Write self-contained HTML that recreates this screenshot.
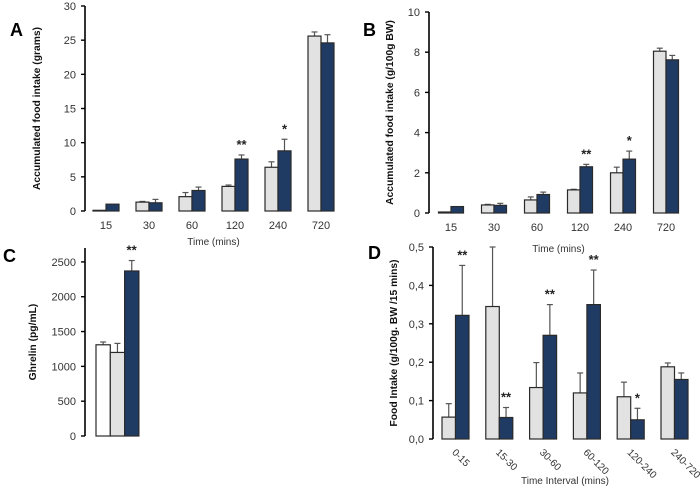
<!DOCTYPE html>
<html><head><meta charset="utf-8"><style>
html,body{margin:0;padding:0;background:#fff;width:700px;height:490px;overflow:hidden}
text{font-family:"Liberation Sans",Arial,sans-serif}
</style></head><body>
<svg id="fig" width="700" height="490" viewBox="0 0 700 490" xmlns="http://www.w3.org/2000/svg"></svg>
<script>
// Panel A
const catsA = ["15","30","60","120","240","720"];
const lightA = [0.1,1.3,2.1,3.6,6.4,25.6];
const lightErrA = [0,0.1,0.6,0.2,0.8,0.6];
const darkA = [1.0,1.2,3.0,7.6,8.8,24.6];
const darkErrA = [0,0.5,0.5,0.6,1.7,1.2];
const starsA = ["","","","**","*",""];
const ticksA = [0,5,10,15,20,25,30];
// Panel B
const catsB = ["15","30","60","120","240","720"];
const lightB = [0.05,0.4,0.65,1.15,2.0,8.05];
const lightErrB = [0,0.03,0.15,0.03,0.28,0.15];
const darkB = [0.32,0.38,0.92,2.3,2.68,7.62];
const darkErrB = [0,0.1,0.12,0.12,0.4,0.22];
const starsB = ["","","","**","*",""];
const ticksB = [0,2,4,6,8,10];
// Panel C
const valuesC = [1310,1200,2370];
const errC = [40,130,150];
const starsC = ["","","**"];
const ticksC = [0,500,1000,1500,2000,2500];
// Panel D
const catsD = ["0-15","15-30","30-60","60-120","120-240","240-720"];
const lightD = [0.057,0.345,0.134,0.12,0.11,0.188];
const lightErrD = [0.035,0.155,0.065,0.052,0.038,0.01];
const darkD = [0.322,0.056,0.27,0.35,0.05,0.155];
const darkErrD = [0.13,0.026,0.08,0.09,0.03,0.017];
const starsLightD = ["","","","","",""];
const starsDarkD = ["**","**","**","**","*",""];
const ticksD = ["0,0","0,1","0,2","0,3","0,4","0,5"];
const ticksDVal = [0,0.1,0.2,0.3,0.4,0.5];

const NS="http://www.w3.org/2000/svg";
const svg=document.getElementById('fig');
function mk(tag,attrs,parent,txt){const e=document.createElementNS(NS,tag);for(const k in attrs)e.setAttribute(k,attrs[k]);if(txt!==undefined)e.textContent=txt;(parent||svg).appendChild(e);return e;}
const LIGHT="#e2e2e2",DARK="#1f3b63",WHITE="#ffffff",STROKE="#2a2a2a";

function axis(g,ax,y0,y1,max,vals,labels,title,titleX){
  const ys=v=>y0-(v/max)*(y0-y1);
  const l=mk('line',{x1:ax,y1:y1,x2:ax,y2:y0,stroke:"#000","stroke-width":1.6},g);
  
  vals.forEach((v,i)=>{
    const t=mk('line',{x1:ax-4,x2:ax,y1:ys(v),y2:ys(v),stroke:"#000","stroke-width":1.4},g);
    
    const tx=mk('text',{x:ax-9,y:ys(v)+4,"text-anchor":"end","font-size":11,fill:"#333"},g,labels[i]);
    
  });
  const yt=mk('text',{transform:`translate(${titleX},${(y0+y1)/2}) rotate(-90)`,"text-anchor":"middle","font-size":10.3,"font-weight":"bold",fill:"#111"},g,title);
  
  return ys;
}
function bar(g,x,w,v,err,ys,fill,name){
  const y0=ys(0),y=ys(v);
  if(err>0){const e=mk('line',{x1:x+w/2,x2:x+w/2,y1:y,y2:ys(v+err),stroke:"#555","stroke-width":1.2},g);
    
    const c=mk('line',{x1:x+w/2-3,x2:x+w/2+3,y1:ys(v+err),y2:ys(v+err),stroke:"#555","stroke-width":1.2},g);
    }
  const r=mk('rect',{x:x,y:y,width:w,height:Math.max(0.5,y0-y),fill:fill,stroke:STROKE,"stroke-width":1.2},g);
  
}
function star(g,x,y,s){if(!s)return;const t=mk('text',{x:x,y:y,"text-anchor":"middle","font-size":13,"font-weight":"bold",fill:"#222"},g,s);
  }
function letter(x,y,s){const t=mk('text',{x:x,y:y,"font-size":18,"font-weight":"bold",fill:"#000"},svg,s);
  }

function grouped(name,ax,y0,y1,max,tickVals,tickLabs,title,titleX,cats,L,LE,D,DE,starsL,starsD,start,sp,bw,xtitle,xtY,rot){
  const g=mk('g',{});
  const ys=axis(g,ax,y0,y1,max,tickVals,tickLabs,title,titleX);
  cats.forEach((c,i)=>{
    const cx=start+i*sp;
    bar(g,cx-bw,bw,L[i],LE[i],ys,LIGHT,'bar-control-'+c);
    bar(g,cx,bw,D[i],DE[i],ys,DARK,'bar-treated-'+c);
    star(g,cx-bw/2,ys(L[i]+LE[i])-6,starsL[i]);
    star(g,cx+bw/2,ys(D[i]+DE[i])-6,starsD[i]);
    let t;
    if(rot){t=mk('text',{transform:`translate(${cx-4},${y0+14}) rotate(45)`,"font-size":10,fill:"#333"},g,c);}
    else{t=mk('text',{x:cx,y:y0+18,"text-anchor":"middle","font-size":11,fill:"#333"},g,c);}
    
  });
  const xt=mk('text',{x:start+2.5*sp,y:xtY,"text-anchor":"middle","font-size":10,fill:"#333"},g,xtitle);
  
}

letter(10,36,"A");letter(363,36,"B");letter(3,262,"C");letter(368,259,"D");
grouped('panel-a-chart',85,211,6,30,ticksA,ticksA.map(String),'Accumulated food intake (grams)',40,catsA,lightA,lightErrA,darkA,darkErrA,["","","","","",""],starsA,106,43,13,'Time (mins)',245,false);
grouped('panel-b-chart',429,213,12,10,ticksB,ticksB.map(String),'Accumulated food intake (g/100g BW)',393,catsB,lightB,lightErrB,darkB,darkErrB,["","","","","",""],starsB,451,43,12.5,'Time (mins)',252,false);
grouped('panel-d-chart',433,439,247,0.5,ticksDVal,ticksD,'Food Intake (g/100g. BW /15 mins)',397,catsD,lightD,lightErrD,darkD,darkErrD,starsLightD,starsDarkD,455.5,43.8,13.5,'Time Interval (mins)',484,true);

// Panel C
(function(){
  const g=mk('g',{});
  const ys=axis(g,85,436,248,2700,ticksC,ticksC.map(String),'Ghrelin (pg/mL)',36);
  const fills=[WHITE,LIGHT,DARK];
  valuesC.forEach((v,i)=>{const x=96+i*14.3;bar(g,x,14.3,v,errC[i],ys,fills[i],'bar-group-'+(i+1));star(g,x+7,ys(v+errC[i])-6,starsC[i]);});
})();
</script>
</body></html>
